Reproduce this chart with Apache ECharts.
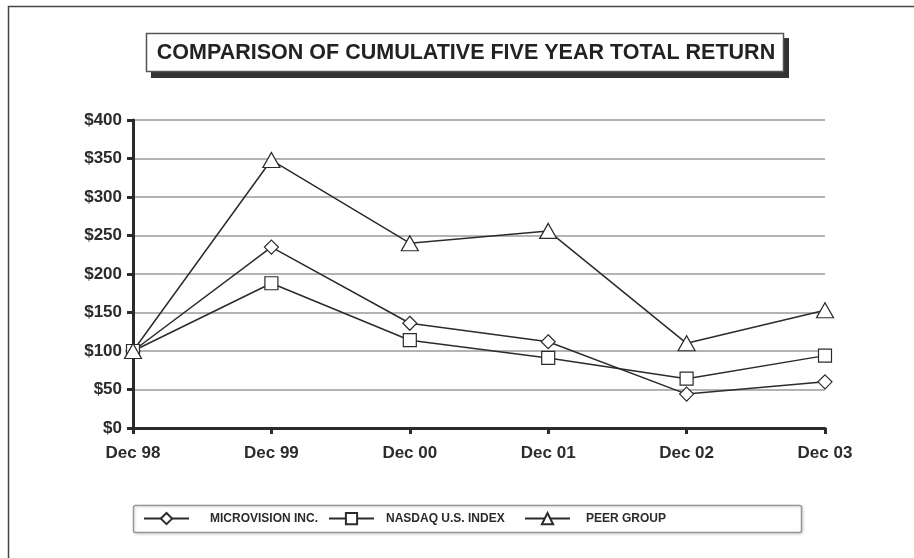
<!DOCTYPE html>
<html>
<head>
<meta charset="utf-8">
<script src="https://cdn.jsdelivr.net/npm/echarts@6/dist/echarts.min.js"></script>
<style>
  html, body { margin: 0; padding: 0; background: #fff; }
  #chart { width: 914px; height: 558px; }
</style>
</head>
<body>
<div id="chart"></div>
<script>
const categories = ['Dec 98', 'Dec 99', 'Dec 00', 'Dec 01', 'Dec 02', 'Dec 03']
const microvision = [100, 235, 136, 112, 44, 60]
const nasdaq = [100, 188, 114, 91, 64, 94]
const peerGroup = [100, 348, 240, 256, 110, 153]
const seriesNames = ['MICROVISION INC.', 'NASDAQ U.S. INDEX', 'PEER GROUP']
const titleText = 'COMPARISON OF CUMULATIVE FIVE YEAR TOTAL RETURN'

const font = '"Liberation Sans", Arial, Helvetica, sans-serif'
const ink = '#2b2b2b'

const chart = echarts.init(document.getElementById('chart'), null, { renderer: 'canvas' })

const lineSeries = (name, data, symbol, size) => ({
  name,
  type: 'line',
  data,
  symbol,
  symbolSize: size,
  showAllSymbol: true,
  lineStyle: { color: ink, width: 1.5 },
  itemStyle: { color: '#fff', borderColor: ink, borderWidth: 1.2 },
  emphasis: { disabled: true },
  animation: false
})

const legendAt = (name, left, gap) => ({
  data: [name],
  left,
  top: 512,
  padding: 0,
  itemWidth: 45,
  itemHeight: 14,
  selectedMode: false,
  textStyle: {
    fontFamily: font,
    fontWeight: 'bold',
    fontSize: 12,
    color: ink,
    padding: [0, 0, 0, gap]
  }
})

const option = {
  animation: false,
  backgroundColor: '#fff',
  grid: { left: 133, right: 89, top: 120, bottom: 130 },
  graphic: [
    // outer frame (only top/left visible)
    { type: 'rect', shape: { x: 8.5, y: 6.5, width: 1000, height: 700 },
      style: { fill: 'none', stroke: '#444', lineWidth: 1.5 }, z: -10 },
    // title box shadow + box + text
    { type: 'rect', shape: { x: 151, y: 38, width: 638, height: 40 },
      style: { fill: '#333' }, z: 1 },
    { type: 'rect', shape: { x: 146.5, y: 33.5, width: 637, height: 38 },
      style: { fill: '#fff', stroke: '#555', lineWidth: 1.5 }, z: 2 },
    { type: 'text', x: 466, y: 53, z: 3,
      style: { text: titleText, fill: '#222', font: 'bold 21.5px ' + font,
        align: 'center', verticalAlign: 'middle' } },
    // legend box
    { type: 'rect', shape: { x: 133.5, y: 505.5, width: 668, height: 27, r: 2 },
      style: { fill: '#fff', stroke: '#999', lineWidth: 1.5,
        shadowColor: 'rgba(0,0,0,0.15)', shadowBlur: 3, shadowOffsetX: 1, shadowOffsetY: 1 }, z: 0 }
  ],
  legend: [
    legendAt(seriesNames[0], 143, 16),
    legendAt(seriesNames[1], 328, 7),
    legendAt(seriesNames[2], 524, 11)
  ],
  xAxis: {
    type: 'category',
    data: categories,
    boundaryGap: false,
    axisLine: { lineStyle: { color: ink, width: 3 } },
    axisTick: { show: true, length: 6, lineStyle: { color: ink, width: 3 } },
    axisLabel: { fontFamily: font, fontWeight: 'bold', fontSize: 17, color: ink, margin: 17 },
    splitLine: { show: false }
  },
  yAxis: {
    type: 'value',
    min: 0,
    max: 400,
    interval: 50,
    axisLine: { show: true, lineStyle: { color: ink, width: 3 } },
    axisTick: { show: true, length: 6, lineStyle: { color: ink, width: 3 } },
    axisLabel: { fontFamily: font, fontWeight: 'bold', fontSize: 17, color: ink, margin: 11,
      formatter: v => '$' + v },
    splitLine: { lineStyle: { color: '#9a9a9a', width: 1.5 } }
  },
  series: [
    lineSeries(seriesNames[0], microvision, 'diamond', 14),
    lineSeries(seriesNames[1], nasdaq, 'rect', 13),
    lineSeries(seriesNames[2], peerGroup, 'triangle', [17, 15])
  ]
}

chart.setOption(option)
</script>
</body>
</html>
